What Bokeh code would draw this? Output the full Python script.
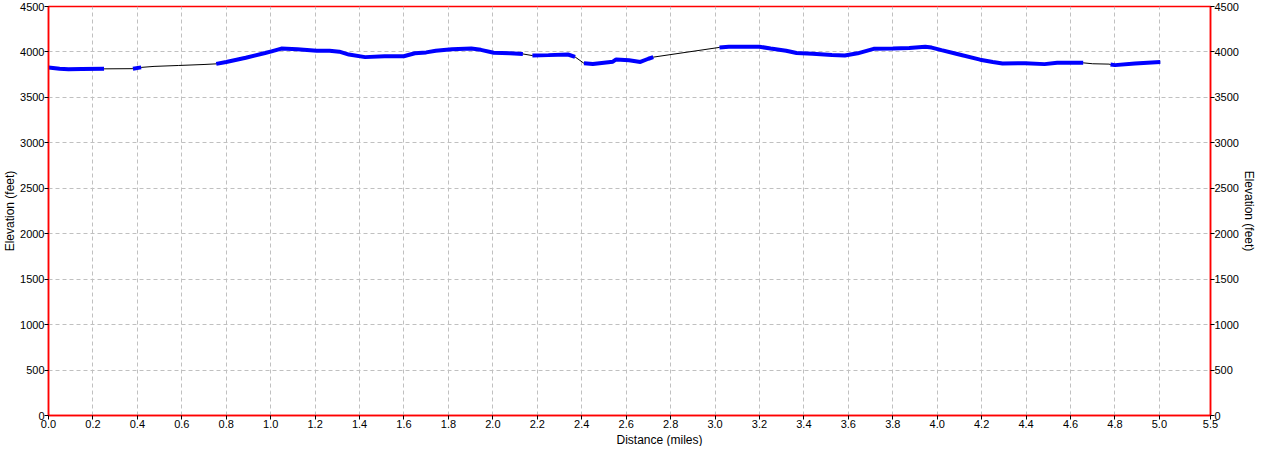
import numpy as np
from bokeh.plotting import figure
from bokeh.models import LinearAxis, FixedTicker, Range1d, Title
from bokeh.embed import file_html
from bokeh.resources import INLINE

## data ##

# track distance (miles), elevation (feet) and the gps segment each point belongs to
# (segment 0 = no signal, only the connecting line is drawn there)
dist = [0.0, 0.05, 0.09, 0.15, 0.25,
        0.38, 0.417,
        0.475, 0.584, 0.70,
        0.755, 0.80, 0.888, 0.975, 1.004, 1.048, 1.12, 1.207, 1.265, 1.309,
        1.352, 1.425, 1.512, 1.599, 1.649, 1.70, 1.743, 1.816, 1.903, 1.946,
        2.004, 2.077, 2.135,
        2.178, 2.25, 2.338, 2.37,
        2.41, 2.45, 2.54, 2.555, 2.613, 2.664, 2.70, 2.722,
        3.02, 3.062, 3.2, 3.25, 3.32, 3.367, 3.439, 3.526, 3.584, 3.642,
        3.714, 3.80, 3.874, 3.946, 3.975, 4.019, 4.09, 4.193, 4.25, 4.294,
        4.396, 4.483, 4.54, 4.657,
        4.70, 4.773,
        4.78, 4.80, 4.89, 5.004]
elev = [3830, 3815, 3809, 3812, 3814,
        3816, 3830,
        3841, 3851, 3862,
        3869, 3890, 3936, 3988, 4006, 4037, 4030, 4013, 4013, 4003,
        3971, 3943, 3953, 3953, 3985, 3995, 4013, 4030, 4037, 4023,
        3992, 3985, 3978,
        3960, 3965, 3972, 3945,
        3875, 3868, 3893, 3918, 3908, 3890, 3925, 3943,
        4050, 4058, 4058, 4037, 4013, 3988, 3981, 3967, 3960, 3985,
        4034, 4037, 4044, 4058, 4048, 4020, 3978, 3915, 3890, 3872,
        3876, 3866, 3880, 3880,
        3870, 3866,
        3862, 3855, 3872, 3890]
seg = [1, 1, 1, 1, 1,
       2, 2,
       0, 0, 0,
       3, 3, 3, 3, 3, 3, 3, 3, 3, 3,
       3, 3, 3, 3, 3, 3, 3, 3, 3, 3,
       3, 3, 3,
       4, 4, 4, 4,
       5, 5, 5, 5, 5, 5, 5, 5,
       6, 6, 6, 6, 6, 6, 6, 6, 6, 6,
       6, 6, 6, 6, 6, 6, 6, 6, 6, 6,
       6, 6, 6, 6,
       0, 0,
       7, 7, 7, 7]

x_ticks = [0.0, 0.2, 0.4, 0.6, 0.8, 1.0, 1.2, 1.4, 1.6, 1.8, 2.0, 2.2, 2.4,
           2.6, 2.8, 3.0, 3.2, 3.4, 3.6, 3.8, 4.0, 4.2, 4.4, 4.6, 4.8, 5.0, 5.23]
x_tick_labels = ["0.0", "0.2", "0.4", "0.6", "0.8", "1.0", "1.2", "1.4", "1.6",
                 "1.8", "2.0", "2.2", "2.4", "2.6", "2.8", "3.0", "3.2", "3.4",
                 "3.6", "3.8", "4.0", "4.2", "4.4", "4.6", "4.8", "5.0", "5.5"]
y_ticks = [0, 500, 1000, 1500, 2000, 2500, 3000, 3500, 4000, 4500]

FONT = "Liberation Sans"


def style_axis(ax):
    ax.axis_line_color = "#ff0000"
    ax.axis_line_width = 1.5
    ax.major_tick_line_color = "black"
    ax.major_tick_in = 0
    ax.major_tick_out = 4
    ax.minor_tick_line_color = None
    ax.major_label_standoff = 0
    ax.major_label_text_font = FONT
    ax.major_label_text_font_size = "11px"
    ax.major_label_text_color = "black"
    ax.axis_label_text_font = FONT
    ax.axis_label_text_font_size = "12px"
    ax.axis_label_text_font_style = "normal"
    ax.axis_label_text_color = "black"
    ax.axis_label_standoff = 0


def main():
    p = figure(width=1258, height=446, output_backend="svg", toolbar_location=None,
               x_range=Range1d(0, 5.23), y_range=Range1d(0, 4500),
               min_border_top=6, min_border_left=0, min_border_right=0,
               min_border_bottom=0)
    p.background_fill_color = "white"
    p.border_fill_color = "white"
    p.outline_line_color = "#ff0000"
    p.outline_line_width = 1.5

    p.xaxis.ticker = FixedTicker(ticks=x_ticks)
    p.xaxis.major_label_overrides = {t: s for t, s in zip(x_ticks, x_tick_labels)}
    p.yaxis.ticker = FixedTicker(ticks=y_ticks)
    p.yaxis.axis_label = "Elevation (feet)"
    style_axis(p.xaxis[0])
    style_axis(p.yaxis[0])

    right = LinearAxis(ticker=FixedTicker(ticks=y_ticks), axis_label="Elevation (feet)")
    style_axis(right)
    p.add_layout(right, "right")

    # distance label sits a bit right of the centre in the original
    p.add_layout(Title(text="Distance (miles)", align="left", offset=568,
                       standoff=0, text_font=FONT, text_font_size="12px",
                       text_font_style="normal", text_color="black"), "below")

    for g in (p.xgrid[0], p.ygrid[0]):
        g.grid_line_color = "#c0c0c0"
        g.grid_line_dash = "4 3"
        g.grid_line_width = 1

    # whole track as thin black line
    p.line(dist, elev, line_color="black", line_width=1)

    # recorded gps segments as thick blue lines
    d = np.array(dist)
    e = np.array(elev)
    s = np.array(seg)
    xs, ys = [], []
    for k in sorted(set(seg)):
        if k == 0:
            continue
        xs.append(list(d[s == k]))
        ys.append(list(e[s == k]))
    p.multi_line(xs, ys, line_color="#0000ff", line_width=4)

    open("out.html", "w").write(file_html(p, INLINE))


if __name__ == "__main__":
    main()
